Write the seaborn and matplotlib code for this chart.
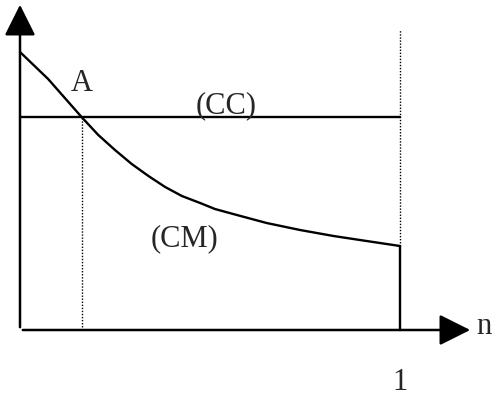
import numpy as np
import pandas as pd
import seaborn as sns
import matplotlib.pyplot as plt

# curve (CM), n from 0 to 1
cm_n = [0.0, 0.074, 0.118, 0.162, 0.206, 0.250, 0.294, 0.338, 0.382, 0.426,
        0.474, 0.513, 0.561, 0.649, 0.737, 0.825, 0.912, 1.0]
cm_y = [2.78, 2.51, 2.32, 2.13, 1.95, 1.80, 1.66, 1.54, 1.43, 1.34,
        1.27, 1.21, 1.16, 1.07, 1.00, 0.94, 0.89, 0.84]
# horizontal line (CC)
cc_n = [0.0, 1.0]
cc_y = [2.13, 2.13]
a_n = 0.162   # point A

sns.set_theme(style="white")
plt.rcParams['font.family'] = ['Liberation Serif', 'DejaVu Serif']

fig = plt.figure(figsize=(4.95, 4.0), dpi=100)
ax = fig.add_axes([0, 0, 1, 1])
ax.set_xlim(-20 / 380, 475 / 380)
ax.set_ylim(-0.7, 3.3)
ax.axis('off')

cm = pd.DataFrame({'n': cm_n, 'y': cm_y})
cc = pd.DataFrame({'n': cc_n, 'y': cc_y})
sns.lineplot(data=cm, x='n', y='y', ax=ax, color='black', lw=1.7, sort=False)
sns.lineplot(data=cc, x='n', y='y', ax=ax, color='black', lw=1.7)

# axes with arrows
head = '-|>,head_length=1.6,head_width=0.8'
ax.annotate('', xy=(0, 3.28), xytext=(0, 0),
            arrowprops=dict(arrowstyle=head, color='black', lw=1.8))
ax.annotate('', xy=(453 / 380, 0), xytext=(0, 0),
            arrowprops=dict(arrowstyle=head, color='black', lw=1.8))

# verticals
ax.plot([1, 1], [0, cm_y[-1]], color='black', lw=1.7)
ax.plot([1, 1], [cm_y[-1], 3.0], color='black', lw=1.0, ls=(0, (1, 1.2)))
ax.plot([a_n, a_n], [0, cc_y[0]], color='black', lw=1.0, ls=(0, (1, 1.2)))

fs = 22
ax.text(0.162, 2.39, 'A', fontsize=fs, ha='center', va='baseline')
ax.text(0.542, 2.17, '(CC)', fontsize=fs, ha='center', va='baseline')
ax.text(0.432, 0.84, '(CM)', fontsize=fs, ha='center', va='baseline')
ax.text(1.0, -0.6, '1', fontsize=fs, ha='center', va='baseline')
ax.text(1.202, -0.04, 'n', fontsize=fs, ha='left', va='baseline')

fig.savefig('out.png', dpi=100)
